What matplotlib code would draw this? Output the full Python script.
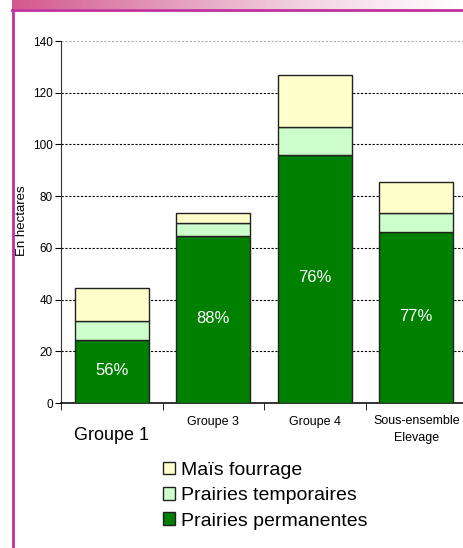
import numpy as np
import matplotlib
matplotlib.use('agg')
import matplotlib.pyplot as plt
from matplotlib.colors import LinearSegmentedColormap
from matplotlib.lines import Line2D
from matplotlib.patches import Patch

plt.rcParams['font.family'] = ['Liberation Sans', 'DejaVu Sans']

# données (hectares)
groupes = ['Groupe 1', 'Groupe 3', 'Groupe 4', 'Sous-ensemble\nElevage']
prairies_perm = [24.5, 64.7, 96.0, 66.0]
prairies_temp = [7.3, 4.9, 10.7, 7.5]
mais_fourrage = [12.6, 3.9, 20.1, 11.8]
pourcentages = ['56%', '88%', '76%', '77%']
yticks = [0, 20, 40, 60, 80, 100, 120, 140]

W, H = 463, 548
fig = plt.figure(figsize=(W / 100, H / 100), dpi=100)
fig.patch.set_facecolor('white')

# bandeau dégradé en haut
hdr = fig.add_axes([12 / W, (H - 9) / H, (W - 12) / W, 9 / H])
cmap = LinearSegmentedColormap.from_list(
    'hdr', ['#d4588c', '#e39ab9', '#f3d6e4', '#ffffff'])
hdr.imshow(np.linspace(0, 1, 256)[None, :], aspect='auto', cmap=cmap)
hdr.axis('off')

# cadre magenta
fig.add_artist(Line2D([12 / W, 1], [(H - 10) / H] * 2, color='#c0309c',
                      lw=2, transform=fig.transFigure))
fig.add_artist(Line2D([13 / W] * 2, [0, (H - 10) / H], color='#c0309c',
                      lw=2, transform=fig.transFigure))

ax = fig.add_axes([61 / W, (H - 403) / H, 406 / W, 362 / H])
x = np.arange(len(groupes))
bw = 0.73
edge = dict(edgecolor='#222222', linewidth=1)
ax.bar(x, prairies_perm, bw, color='#008000', zorder=3, **edge)
bottom2 = np.array(prairies_perm)
ax.bar(x, prairies_temp, bw, bottom=bottom2, color='#ccffcc', zorder=3, **edge)
bottom3 = bottom2 + np.array(prairies_temp)
ax.bar(x, mais_fourrage, bw, bottom=bottom3, color='#ffffcc', zorder=3, **edge)

for xi, p, lab in zip(x, prairies_perm, pourcentages):
    ax.text(xi, p / 2 + 0.5, lab, color='white', fontsize=12, ha='center',
            va='center', zorder=4)

ax.set_xlim(-0.5, 3.5)
ax.set_ylim(0, 140)
ax.set_yticks(yticks)
ax.tick_params(axis='y', labelsize=8.5, length=4, direction='out', pad=2)
ax.set_xticks(x)
ax.set_xticklabels(groupes, fontsize=9, linespacing=1.5)
ax.set_xticks(np.arange(-0.5, 3.6, 1), minor=True)
ax.tick_params(axis='x', which='major', length=0, pad=9)
ax.tick_params(axis='x', which='minor', length=5, direction='out')
t0 = ax.xaxis.get_major_ticks()[0]
t0.label1.set_fontsize(13)
t0.set_pad(17)

ax.grid(axis='y', color='black', linestyle=(0, (2, 1.5)), linewidth=0.8,
        zorder=0)
ax.yaxis.get_gridlines()[-1].set_color('#aaaaaa')
for s in ['top', 'right']:
    ax.spines[s].set_visible(False)
ax.spines['left'].set_color('#333333')
ax.spines['bottom'].set_color('#111111')
ax.spines['bottom'].set_linewidth(1.2)

fig.text(22 / W, (H - 221) / H, 'En hectares', rotation=90, fontsize=9.5,
         ha='center', va='center')

handles = [Patch(facecolor='#ffffcc', edgecolor='#222222', label='Maïs fourrage'),
           Patch(facecolor='#ccffcc', edgecolor='#222222', label='Prairies temporaires'),
           Patch(facecolor='#008000', edgecolor='#222222', label='Prairies permanentes')]
fig.legend(handles=handles, loc='upper left',
           bbox_to_anchor=(145 / W, (H - 444) / H), frameon=False,
           fontsize=14, handlelength=0.65, handleheight=0.65,
           handletextpad=0.28, labelspacing=0.42)

fig.savefig('out.png', dpi=100)
